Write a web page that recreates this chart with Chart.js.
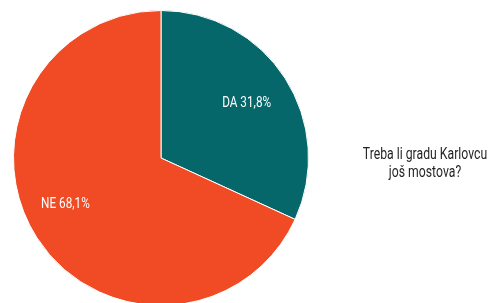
<!DOCTYPE html>
<html>
<head>
<meta charset="utf-8">
<script src="https://cdn.jsdelivr.net/npm/chart.js@4"></script>
<style>
  html, body { margin: 0; padding: 0; background: #fff; overflow: hidden; }
  #wrap { position: relative; width: 492px; height: 310px; }
  #title {
    position: absolute; left: 325px; top: 144px; width: 200px;
    text-align: center; color: #231f20; white-space: nowrap;
    font-family: Roboto, sans-serif;
    font-size: 17px; line-height: 18px;
    transform: scaleX(0.72); transform-origin: 50% 50%;
  }
</style>
</head>
<body>
<div id="wrap">
  <canvas id="pieChart" width="492" height="310"></canvas>
  <div id="title">Treba li gradu Karlovcu<br>još mostova?</div>
</div>
<script>
// data
const categories = ['DA', 'NE'];
const shares = [31.8, 68.1];
const labelTexts = ['DA 31,8%', 'NE 68,1%'];
const sliceColors = ['#05676a', '#f04b24'];

// white labels inside the slices, squeezed to look like a condensed face
const sliceLabels = {
  id: 'sliceLabels',
  afterDatasetsDraw(chart, args, opts) {
    const ctx = chart.ctx;
    const meta = chart.getDatasetMeta(0);
    meta.data.forEach((arc, i) => {
      const p = arc.getProps(['x', 'y', 'startAngle', 'endAngle', 'outerRadius'], true);
      const mid = (p.startAngle + p.endAngle) / 2 + (opts.angleShift[i] || 0);
      const r = p.outerRadius * opts.dist[i];
      ctx.save();
      ctx.translate(p.x + Math.cos(mid) * r, p.y + Math.sin(mid) * r);
      ctx.scale(opts.squeeze, 1);
      ctx.fillStyle = '#ffffff';
      ctx.font = opts.font;
      ctx.textAlign = 'center';
      ctx.textBaseline = 'middle';
      ctx.fillText(labelTexts[i], 0, 0);
      ctx.restore();
    });
  }
};

const ctx = document.getElementById('pieChart').getContext('2d');
new Chart(ctx, {
  type: 'pie',
  data: {
    labels: categories,
    datasets: [{
      data: shares,
      backgroundColor: sliceColors,
      borderColor: '#ffffff',
      borderWidth: 1
    }]
  },
  options: {
    responsive: false,
    animation: false,
    layout: { padding: { left: 13, right: 183, top: 10, bottom: 4 } },
    plugins: {
      legend: { display: false },
      tooltip: { enabled: false },
      sliceLabels: {
        font: '14px Roboto, sans-serif',
        squeeze: 0.84,
        dist: [0.69, 0.72],
        angleShift: [0, 0.12]
      }
    }
  },
  plugins: [sliceLabels]
});
</script>
</body>
</html>
